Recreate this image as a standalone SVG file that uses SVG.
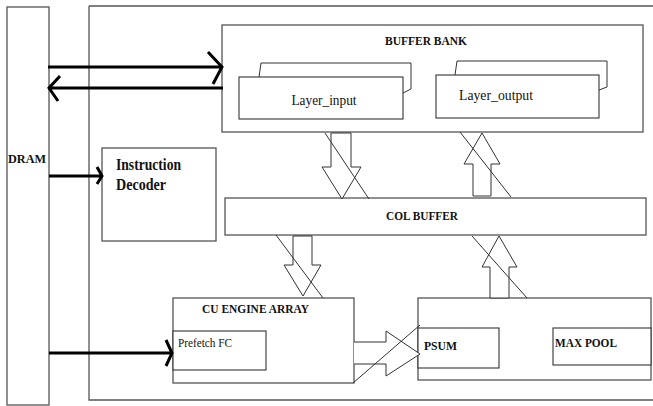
<svg xmlns="http://www.w3.org/2000/svg" width="653" height="406" viewBox="0 0 653 406">
<style>
.box{fill:#fff;stroke:#555;stroke-width:1.3}
.in{fill:#fff;stroke:#333;stroke-width:1.1}
.ln{fill:none;stroke:#333;stroke-width:1}
.fat{fill:#fff;stroke:#333;stroke-width:1}
.bus{fill:none;stroke:#000;stroke-width:3}
.b{font-family:"Liberation Serif",serif;font-weight:bold;fill:#111}
.r{font-family:"Liberation Serif",serif;fill:#111}
</style>
<rect width="653" height="406" fill="#fff"/>
<g id="outer"><path class="box" d="M89,6 H653 M89,6 V400 H653"/></g>
<g id="dram"><rect class="box" x="7" y="7" width="42" height="398"/><text class="b" x="8" y="163" font-size="13" textLength="38" lengthAdjust="spacingAndGlyphs">DRAM</text></g>
<g id="buffer-bank">
<rect class="box" x="222" y="25" width="421" height="107"/>
<text class="b" x="426" y="45" font-size="13" text-anchor="middle" textLength="82" lengthAdjust="spacingAndGlyphs">BUFFER BANK</text>
</g>
<g id="layer-input">
<path class="ln" d="M259,77 L261,63 H411 V89 L403,93"/>
<rect class="in" x="239" y="77" width="164" height="42"/>
<text class="r" x="324" y="105" font-size="15" text-anchor="middle" textLength="65" lengthAdjust="spacingAndGlyphs">Layer_input</text>
</g>
<g id="layer-output">
<path class="ln" d="M455,75 L457,61 H607 V87 L599,90"/>
<rect class="in" x="436" y="75" width="163" height="43"/>
<text class="r" x="496" y="100" font-size="15" text-anchor="middle" textLength="74" lengthAdjust="spacingAndGlyphs">Layer_output</text>
</g>
<g id="instruction-decoder">
<rect class="box" x="102" y="148" width="114" height="93"/>
<text class="b" x="116" y="170" font-size="16" textLength="65" lengthAdjust="spacingAndGlyphs">Instruction</text>
<text class="b" x="116" y="190" font-size="16" textLength="50" lengthAdjust="spacingAndGlyphs">Decoder</text>
</g>
<g id="col-buffer">
<rect class="box" x="225" y="198" width="421" height="37"/>
<text class="b" x="422" y="220" font-size="13" text-anchor="middle" textLength="72" lengthAdjust="spacingAndGlyphs">COL BUFFER</text>
</g>
<g id="cu-engine-array">
<rect class="box" x="173" y="298" width="181" height="85"/>
<text class="b" x="202" y="313" font-size="13" textLength="107" lengthAdjust="spacingAndGlyphs">CU ENGINE ARRAY</text>
</g>
<g id="prefetch-fc">
<rect class="in" x="173" y="331" width="93" height="39"/>
<text class="r" x="178" y="347" font-size="13" textLength="54" lengthAdjust="spacingAndGlyphs">Prefetch FC</text>
</g>
<g id="post-block">
<rect class="box" x="418" y="298" width="233" height="82"/>
</g>
<g id="psum">
<rect class="in" x="418" y="328" width="81" height="40"/>
<text class="b" x="424" y="350" font-size="13" textLength="33" lengthAdjust="spacingAndGlyphs">PSUM</text>
</g>
<g id="max-pool">
<rect class="in" x="553" y="328" width="98" height="37"/>
<text class="b" x="555" y="347" font-size="13" textLength="62" lengthAdjust="spacingAndGlyphs">MAX POOL</text>
</g>
<g id="connectors">
<path class="bus" d="M48,67 H222 M208,52 L222,67 L213,84"/>
<path class="bus" d="M223,88 H49 M60,76 L49,88 L58,101"/>
<path class="bus" d="M49,176 H102 M97,167 L102,176 L97,184"/>
<path class="bus" d="M49,353 H172 M166,340 L172,353 L166,366"/>
<path class="fat" d="M331,133 H351 V167 H361 L342,199 L322,167 H331 Z"/>
<path class="ln" d="M325,133 L369,199"/>
<path class="fat" d="M473,196 V164 H464 L482,133 L500,164 H491 V196 Z"/>
<path class="ln" d="M460,132 L511,197"/>
<path class="fat" d="M293,236 H312 V265 H321 L303,296 L284,265 H293 Z"/>
<path class="ln" d="M276,235 L323,298"/>
<path class="fat" d="M490,298 V267 H482 L499,236 L517,267 H509 V298 Z"/>
<path class="ln" d="M472,236 L527,298"/>
<path class="fat" d="M354,342 H386 V331 L420,354 L386,376 V364 H354"/>
<path class="ln" d="M353,383 L420,325"/>
</g>
</svg>
